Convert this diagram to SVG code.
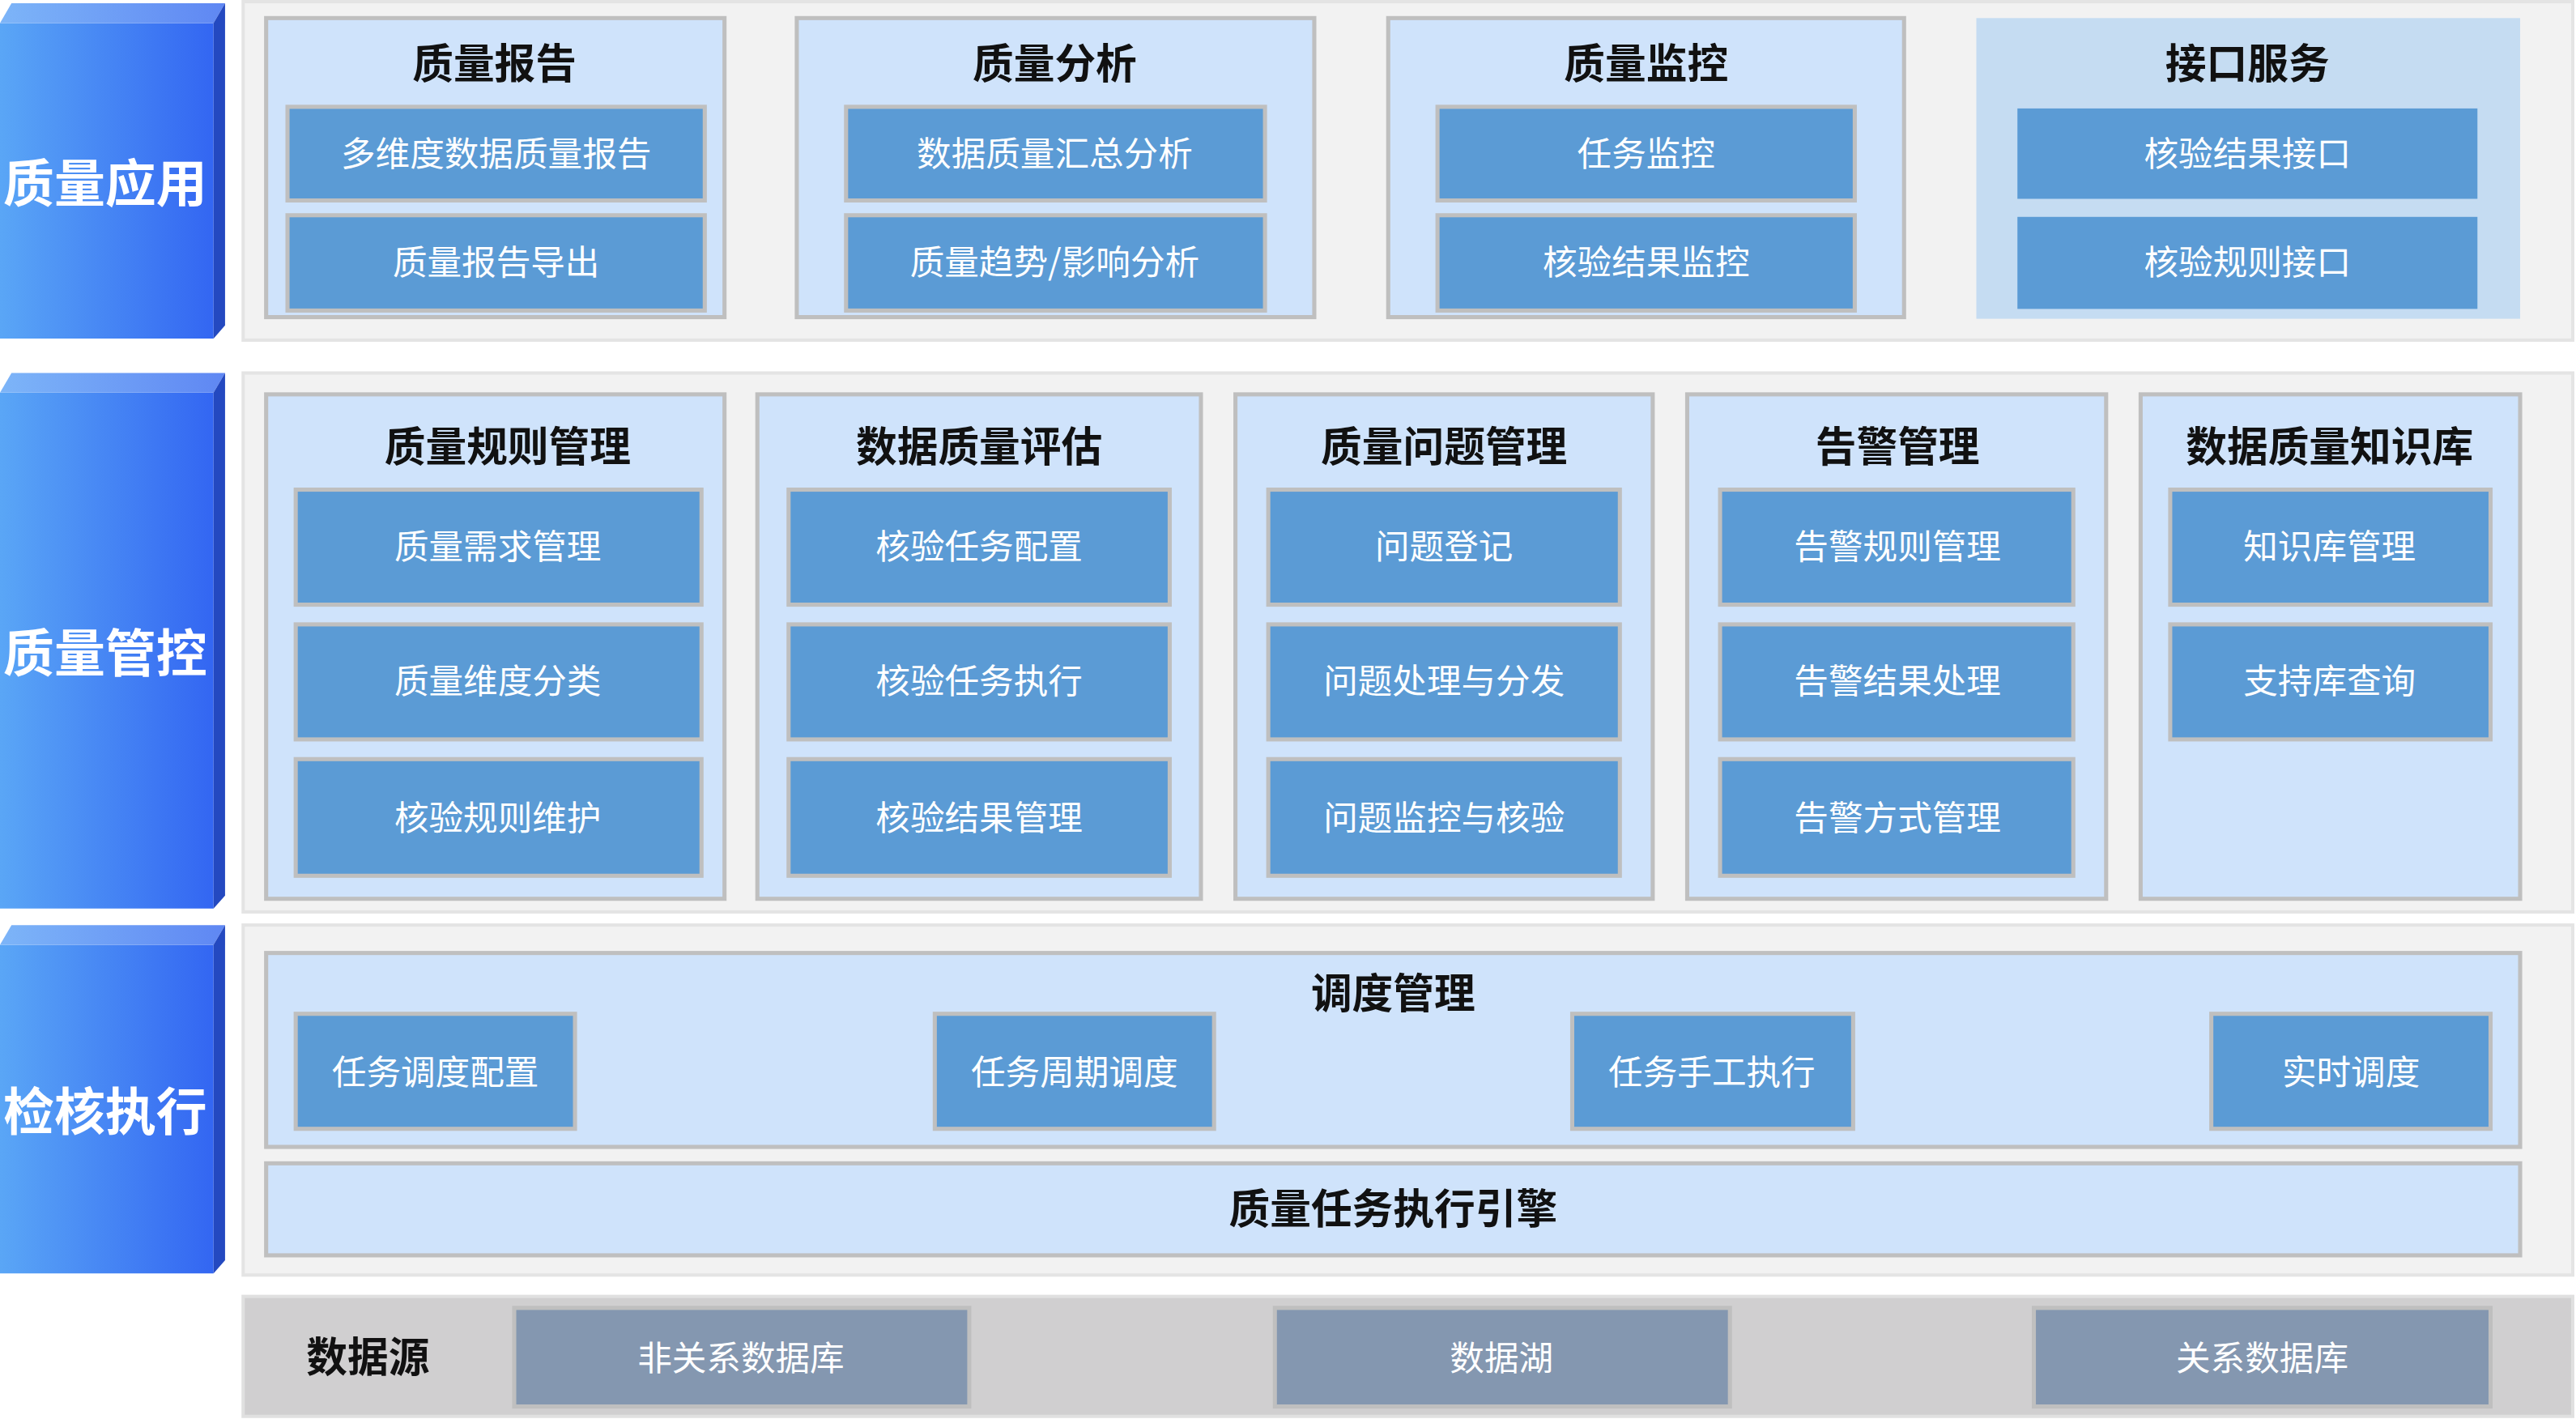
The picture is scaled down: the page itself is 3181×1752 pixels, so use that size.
<svg xmlns="http://www.w3.org/2000/svg" width="3181" height="1752" viewBox="0 0 3181 1752">
<defs>
<linearGradient id="bf" x1="0" x2="1" y1="0" y2="0"><stop offset="0" stop-color="#5aa6f6"/><stop offset="1" stop-color="#3366f2"/></linearGradient>
<linearGradient id="bt" x1="0" x2="1" y1="0" y2="0"><stop offset="0" stop-color="#7db5f8"/><stop offset="1" stop-color="#5f87f3"/></linearGradient>
<style>
.pan{fill:#f2f2f2;stroke:#e4e4e4;stroke-width:2}
.grp{fill:#cfe3fb;stroke:#bfbfbf;stroke-width:2.5}
.itm{fill:#5b9bd5;stroke:#bfbfbf;stroke-width:2.5}
.ds{fill:#8497b0;stroke:#bfbfbf;stroke-width:2.5}
.t{font-family:"Noto Sans CJK SC","Liberation Sans",sans-serif;text-anchor:middle;dominant-baseline:central}
.tt{font-size:25px;font-weight:bold;fill:#111}
.it{font-size:21px;fill:#fff}
.bt{font-size:31px;font-weight:bold;fill:#fff}
</style>
</defs>
<g transform="scale(2.0287)">
<g id="bars">
<g id="bar1"><path d="M0,14 L130,14 L130,206 L0,206Z" fill="url(#bf)"/><path d="M0,14 L7,2 L137,2 L130,14Z" fill="url(#bt)"/><path d="M130,14 L137,2 L137,198 L130,206Z" fill="#2449c0"/><text class="t bt" x="64" y="109">质量应用</text></g>
<g id="bar2"><path d="M0,239 L130,239 L130,553 L0,553Z" fill="url(#bf)"/><path d="M0,239 L7,227 L137,227 L130,239Z" fill="url(#bt)"/><path d="M130,239 L137,227 L137,545 L130,553Z" fill="#2449c0"/><text class="t bt" x="64" y="395">质量管控</text></g>
<g id="bar3"><path d="M0,575 L130,575 L130,775 L0,775Z" fill="url(#bf)"/><path d="M0,575 L7,563 L137,563 L130,575Z" fill="url(#bt)"/><path d="M130,575 L137,563 L137,767 L130,775Z" fill="#2449c0"/><text class="t bt" x="64" y="674">检核执行</text></g>
</g>
<rect class="pan" x="148" y="1" width="1418" height="206"/>
<rect class="pan" x="148" y="227" width="1418" height="328"/>
<rect class="pan" x="148" y="563" width="1418" height="213"/>
<rect x="148" y="789" width="1418" height="73" fill="#d0cfd0" stroke="#e0e0e0" stroke-width="2"/>

<g id="g-report"><rect class="grp" x="162" y="11" width="279" height="182"/><text class="t tt" x="301" y="37">质量报告</text>
<rect class="itm" x="175" y="65" width="254" height="57"/><text class="t it" x="302" y="92">多维度数据质量报告</text>
<rect class="itm" x="175" y="131" width="254" height="58"/><text class="t it" x="302" y="158">质量报告导出</text></g>
<g id="g-analysis"><rect class="grp" x="485" y="11" width="315" height="182"/><text class="t tt" x="642" y="37">质量分析</text>
<rect class="itm" x="515" y="65" width="255" height="57"/><text class="t it" x="642" y="92">数据质量汇总分析</text>
<rect class="itm" x="515" y="131" width="255" height="58"/><text class="t it" x="642" y="158">质量趋势/影响分析</text></g>
<g id="g-monitor"><rect class="grp" x="845" y="11" width="314" height="182"/><text class="t tt" x="1002" y="37">质量监控</text>
<rect class="itm" x="875" y="65" width="254" height="57"/><text class="t it" x="1002" y="92">任务监控</text>
<rect class="itm" x="875" y="131" width="254" height="58"/><text class="t it" x="1002" y="158">核验结果监控</text></g>
<g id="g-api"><rect x="1203" y="11" width="331" height="183" fill="#c5dcf2"/><text class="t tt" x="1368" y="37">接口服务</text>
<rect x="1228" y="66" width="280" height="55" fill="#5b9bd5"/><text class="t it" x="1368" y="92">核验结果接口</text>
<rect x="1228" y="132" width="280" height="56" fill="#5b9bd5"/><text class="t it" x="1368" y="158">核验规则接口</text></g>

<g id="g-rule"><rect class="grp" x="162" y="240" width="279" height="307"/><text class="t tt" x="309" y="270">质量规则管理</text>
<rect class="itm" x="180" y="298" width="247" height="70"/><text class="t it" x="303" y="331">质量需求管理</text>
<rect class="itm" x="180" y="380" width="247" height="70"/><text class="t it" x="303" y="413">质量维度分类</text>
<rect class="itm" x="180" y="462" width="247" height="71"/><text class="t it" x="303" y="496">核验规则维护</text></g>
<g id="g-eval"><rect class="grp" x="461" y="240" width="270" height="307"/><text class="t tt" x="596" y="270">数据质量评估</text>
<rect class="itm" x="480" y="298" width="232" height="70"/><text class="t it" x="596" y="331">核验任务配置</text>
<rect class="itm" x="480" y="380" width="232" height="70"/><text class="t it" x="596" y="413">核验任务执行</text>
<rect class="itm" x="480" y="462" width="232" height="71"/><text class="t it" x="596" y="496">核验结果管理</text></g>
<g id="g-issue"><rect class="grp" x="752" y="240" width="254" height="307"/><text class="t tt" x="879" y="270">质量问题管理</text>
<rect class="itm" x="772" y="298" width="214" height="70"/><text class="t it" x="879" y="331">问题登记</text>
<rect class="itm" x="772" y="380" width="214" height="70"/><text class="t it" x="879" y="413">问题处理与分发</text>
<rect class="itm" x="772" y="462" width="214" height="71"/><text class="t it" x="879" y="496">问题监控与核验</text></g>
<g id="g-alarm"><rect class="grp" x="1027" y="240" width="255" height="307"/><text class="t tt" x="1155" y="270">告警管理</text>
<rect class="itm" x="1047" y="298" width="215" height="70"/><text class="t it" x="1155" y="331">告警规则管理</text>
<rect class="itm" x="1047" y="380" width="215" height="70"/><text class="t it" x="1155" y="413">告警结果处理</text>
<rect class="itm" x="1047" y="462" width="215" height="71"/><text class="t it" x="1155" y="496">告警方式管理</text></g>
<g id="g-kb"><rect class="grp" x="1303" y="240" width="231" height="307"/><text class="t tt" x="1418" y="270">数据质量知识库</text>
<rect class="itm" x="1321" y="298" width="195" height="70"/><text class="t it" x="1418" y="331">知识库管理</text>
<rect class="itm" x="1321" y="380" width="195" height="70"/><text class="t it" x="1418" y="413">支持库查询</text></g>

<g id="g-sched"><rect class="grp" x="162" y="580" width="1372" height="118"/><text class="t tt" x="848" y="603">调度管理</text>
<rect class="itm" x="180" y="617" width="170" height="70"/><text class="t it" x="265" y="651">任务调度配置</text>
<rect class="itm" x="569" y="617" width="170" height="70"/><text class="t it" x="654" y="651">任务周期调度</text>
<rect class="itm" x="957" y="617" width="171" height="70"/><text class="t it" x="1042" y="651">任务手工执行</text>
<rect class="itm" x="1346" y="617" width="170" height="70"/><text class="t it" x="1431" y="651">实时调度</text></g>
<g id="g-engine"><rect class="grp" x="162" y="708" width="1372" height="56"/><text class="t tt" x="848" y="734">质量任务执行引擎</text></g>

<g id="g-ds"><text class="t tt" x="224" y="824">数据源</text>
<rect class="ds" x="313" y="796" width="277" height="60"/><text class="t it" x="451" y="825">非关系数据库</text>
<rect class="ds" x="776" y="796" width="277" height="60"/><text class="t it" x="914" y="825">数据湖</text>
<rect class="ds" x="1238" y="796" width="278" height="60"/><text class="t it" x="1377" y="825">关系数据库</text></g>
<g id="connectors"/>
</g>
</svg>
